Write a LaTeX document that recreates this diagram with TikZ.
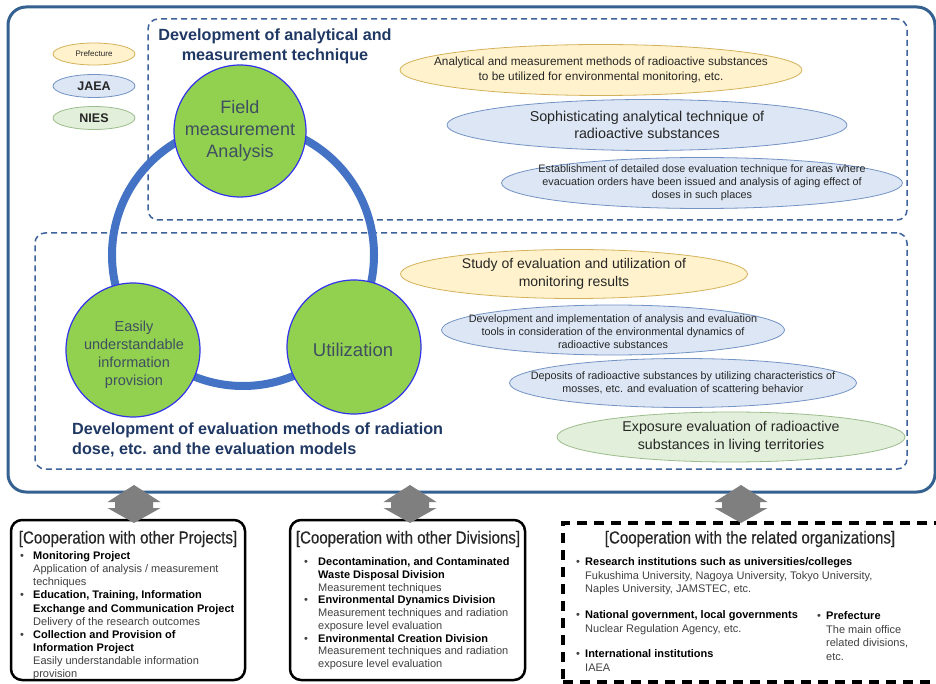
\documentclass[tikz,border=0pt]{standalone}
\usepackage{fontspec}
\setmainfont{Liberation Sans}
\newfontfamily\narrowfont[FakeStretch=0.86,FakeBold=0.4]{Liberation Sans}
\usetikzlibrary{shapes.geometric}
\definecolor{ringblue}{HTML}{4472C4}
\definecolor{cfill}{HTML}{92D050}
\definecolor{cline}{HTML}{3333EE}
\definecolor{ctxt}{HTML}{3F4F5F}
\definecolor{navy}{HTML}{203864}
\definecolor{dashblue}{HTML}{3E629A}
\definecolor{outerblue}{HTML}{34618F}
\definecolor{yfill}{HTML}{FFF2CC}
\definecolor{yline}{HTML}{D4B25A}
\definecolor{bfill}{HTML}{DCE6F4}
\definecolor{bline}{HTML}{7393C4}
\definecolor{gfill}{HTML}{E2EFDA}
\definecolor{gline}{HTML}{9CBD8C}
\definecolor{txt}{HTML}{262626}
\definecolor{desc}{HTML}{404040}
\definecolor{arrowgray}{HTML}{7F7F7F}
\newcommand\fsz[2]{\fontsize{#1}{#2}\selectfont}
\newcommand\bul[1]{\makebox[#1][l]{•}}
\tikzset{
  ell/.style={ellipse, line width=0.8pt, inner sep=0pt},
  yell/.style={ell, fill=yfill, draw=yline},
  bell/.style={ell, fill=bfill, draw=bline},
  gell/.style={ell, fill=gfill, draw=gline},
  etext/.style={align=center, text=txt, inner sep=0pt},
  bigcirc/.style={circle, fill=cfill, draw=cline, line width=1.2pt, inner sep=0pt},
  ctext/.style={align=center, text=ctxt, inner sep=0pt},
  dashbox/.style={rectangle, draw=dashblue, line width=1.5pt, dash pattern=on 6pt off 4pt, rounded corners=10pt, inner sep=0pt},
  coopbox/.style={rectangle, draw=black, line width=2.5pt, rounded corners=11pt, fill=white, inner sep=0pt},
  coopdash/.style={rectangle, draw=black, line width=4pt, dash pattern=on 10pt off 7pt, fill=white, inner sep=0pt},
  cooptitle/.style={inner sep=0pt, text=txt, font=\narrowfont\fsz{17.5}{20}},
  listtext/.style={anchor=north west, align=left, inner sep=0pt, text=desc},
  heading/.style={inner sep=0pt, text=navy, font=\bfseries\fsz{16.2}{19.8}},
  blockarrow/.style={fill=arrowgray}
}
\begin{document}
\begin{tikzpicture}[x=1pt,y=-1pt]
\useasboundingbox (0,0) rectangle (936,684);
\clip (0,0) rectangle (936,684);
\fill[white] (0,0) rectangle (936,684);

% outer box
\node[rectangle, draw=outerblue, line width=3pt, rounded corners=18pt, fill=white,
      minimum width=927pt, minimum height=485pt] (outer) at (471.5,249.5) {};

% dashed boxes
\node[dashbox, minimum width=759pt, minimum height=201pt] (topbox) at (527.5,119.5) {};
\node[dashbox, minimum width=872pt, minimum height=236pt] (botbox) at (471,351) {};

% headings
\node[heading, align=center] (h1) at (275,46) {Development of analytical and\\measurement technique};
\node[heading, align=left, anchor=west] (h2) at (72,440) {Development of evaluation methods of radiation\\dose, etc. and the evaluation models};

% ring and circles
\node[circle, draw=ringblue, line width=8pt, minimum size=262pt, inner sep=0pt] (ring) at (243,255) {};
\node[bigcirc, minimum size=132pt] (field) at (240,131) {};
\node[ctext, font=\fsz{18}{22}] (fieldt) at (field.center) {Field\\measurement\\Analysis};
\node[bigcirc, minimum size=134pt] (easy) at (133,350) {};
\node[ctext, font=\fsz{14.5}{18}] (easyt) at (134,355) {Easily\\understandable\\information\\provision};
\node[bigcirc, minimum size=134pt] (util) at (354,347) {};
\node[ctext, font=\fsz{18.5}{22}] (utilt) at (353,350) {Utilization};

% legend
\node[yell, minimum width=82pt, minimum height=22pt] (lp) at (94,54) {};
\node[etext, font=\fsz{8}{9}] (lpt) at (lp) {Prefecture};
\node[bell, minimum width=82pt, minimum height=23pt] (lj) at (94,86) {};
\node[etext, font=\bfseries\fsz{12.5}{14}] (ljt) at (lj) {JAEA};
\node[gell, minimum width=82pt, minimum height=23pt] (ln) at (94,118) {};
\node[etext, font=\bfseries\fsz{12.5}{14}] (lnt) at (ln) {NIES};

% top ellipses
\node[yell, minimum width=402pt, minimum height=51pt] (e1) at (601,70) {};
\node[etext, font=\fsz{11.8}{14.5}] (e1t) at (e1) {Analytical and measurement methods of radioactive substances\\to be utilized for environmental monitoring, etc.};
\node[bell, minimum width=400pt, minimum height=51pt] (e2) at (647,125) {};
\node[etext, font=\fsz{14.3}{17.5}] (e2t) at (e2) {Sophisticating analytical technique of\\radioactive substances};
\node[bell, minimum width=401pt, minimum height=51pt] (e3) at (702,183) {};
\node[etext, font=\fsz{10.8}{12.8}] (e3t) at (e3) {Establishment of detailed dose evaluation technique for areas where\\evacuation orders have been issued and analysis of aging effect of\\doses in such places};

% bottom ellipses
\node[yell, minimum width=347pt, minimum height=49pt] (s1) at (574,274) {};
\node[etext, font=\fsz{14}{18}] (s1t) at (s1) {Study of evaluation and utilization of\\monitoring results};
\node[bell, minimum width=343pt, minimum height=50pt] (s2) at (613,330) {};
\node[etext, font=\fsz{10.8}{13}] (s2t) at (613,332) {Development and implementation of analysis and evaluation\\tools in consideration of the environmental dynamics of\\radioactive substances};
\node[bell, minimum width=347pt, minimum height=49pt] (s3) at (683,383) {};
\node[etext, font=\fsz{10.8}{13.5}] (s3t) at (s3) {Deposits of radioactive substances by utilizing characteristics of\\mosses, etc. and evaluation of scattering behavior};
\node[gell, minimum width=348pt, minimum height=50pt] (s4) at (731,437) {};
\node[etext, font=\fsz{14.2}{18}] (s4t) at (s4) {Exposure evaluation of radioactive\\substances in living territories};

% cooperation boxes
\node[coopbox, minimum width=234pt, minimum height=160pt] (box1) at (128,600) {};
\node[coopbox, minimum width=235pt, minimum height=160pt] (box2) at (407.5,600) {};
\node[coopdash, minimum width=417pt, minimum height=159pt] (box3) at (771.5,602.5) {};

\node[cooptitle] (b1t) at (128,539) {[Cooperation with other Projects]};
\node[cooptitle] (b2t) at (408,539) {[Cooperation with other Divisions]};
\node[cooptitle] (b3t) at (750,539) {[Cooperation with the related organizations]};

\node[listtext, font=\fsz{11}{13.1}] (b1l) at (20,551.5) {%
\bul{13pt}\textcolor{black}{\bfseries Monitoring Project}\\
\hspace*{13pt}Application of analysis / measurement\\
\hspace*{13pt}techniques\\
\bul{13pt}\textcolor{black}{\bfseries Education, Training, Information}\\
\hspace*{13pt}\textcolor{black}{\bfseries Exchange and Communication Project}\\
\hspace*{13pt}Delivery of the research outcomes\\
\bul{13pt}\textcolor{black}{\bfseries Collection and Provision of}\\
\hspace*{13pt}\textcolor{black}{\bfseries Information Project}\\
\hspace*{13pt}Easily understandable information\\
\hspace*{13pt}provision};

\node[listtext, font=\fsz{11}{12.75}] (b2l) at (304,557.5) {%
\bul{14pt}\textcolor{black}{\bfseries Decontamination, and Contaminated}\\
\hspace*{14pt}\textcolor{black}{\bfseries Waste Disposal Division}\\
\hspace*{14pt}Measurement techniques\\
\bul{14pt}\textcolor{black}{\bfseries Environmental Dynamics Division}\\
\hspace*{14pt}Measurement techniques and radiation\\
\hspace*{14pt}exposure level evaluation\\
\bul{14pt}\textcolor{black}{\bfseries Environmental Creation Division}\\
\hspace*{14pt}Measurement techniques and radiation\\
\hspace*{14pt}exposure level evaluation};

\node[listtext, font=\fsz{11}{13.5}] (b3a) at (576,557.5) {%
\bul{9pt}\textcolor{black}{\bfseries Research institutions such as universities/colleges}\\
\hspace*{9pt}Fukushima University, Nagoya University, Tokyo University,\\
\hspace*{9pt}Naples University, JAMSTEC, etc.};
\node[listtext, font=\fsz{11}{13.5}] (b3b) at (576,610.5) {%
\bul{9pt}\textcolor{black}{\bfseries National government, local governments}\\
\hspace*{9pt}Nuclear Regulation Agency, etc.};
\node[listtext, font=\fsz{11}{13.5}] (b3c) at (576,649.5) {%
\bul{9pt}\textcolor{black}{\bfseries International institutions}\\
\hspace*{9pt}IAEA};
\node[listtext, font=\fsz{11}{13.5}] (b3d) at (817,611.5) {%
\bul{9pt}\textcolor{black}{\bfseries Prefecture}\\
\hspace*{9pt}The main office\\
\hspace*{9pt}related divisions,\\
\hspace*{9pt}etc.};

% block arrows
\foreach \c/\n in {134/a1, 410/a2, 741/a3} {
  \coordinate (\n) at (\c,485);
  \fill[blockarrow] (\n) -- ++(26.5,17) -- ++(-7.5,0) -- ++(0,6) -- ++(7.5,0)
     -- ++(-26.5,15) -- ++(-26.5,-15) -- ++(7.5,0) -- ++(0,-6) -- ++(-7.5,0) -- cycle;
}
\end{tikzpicture}
\end{document}
